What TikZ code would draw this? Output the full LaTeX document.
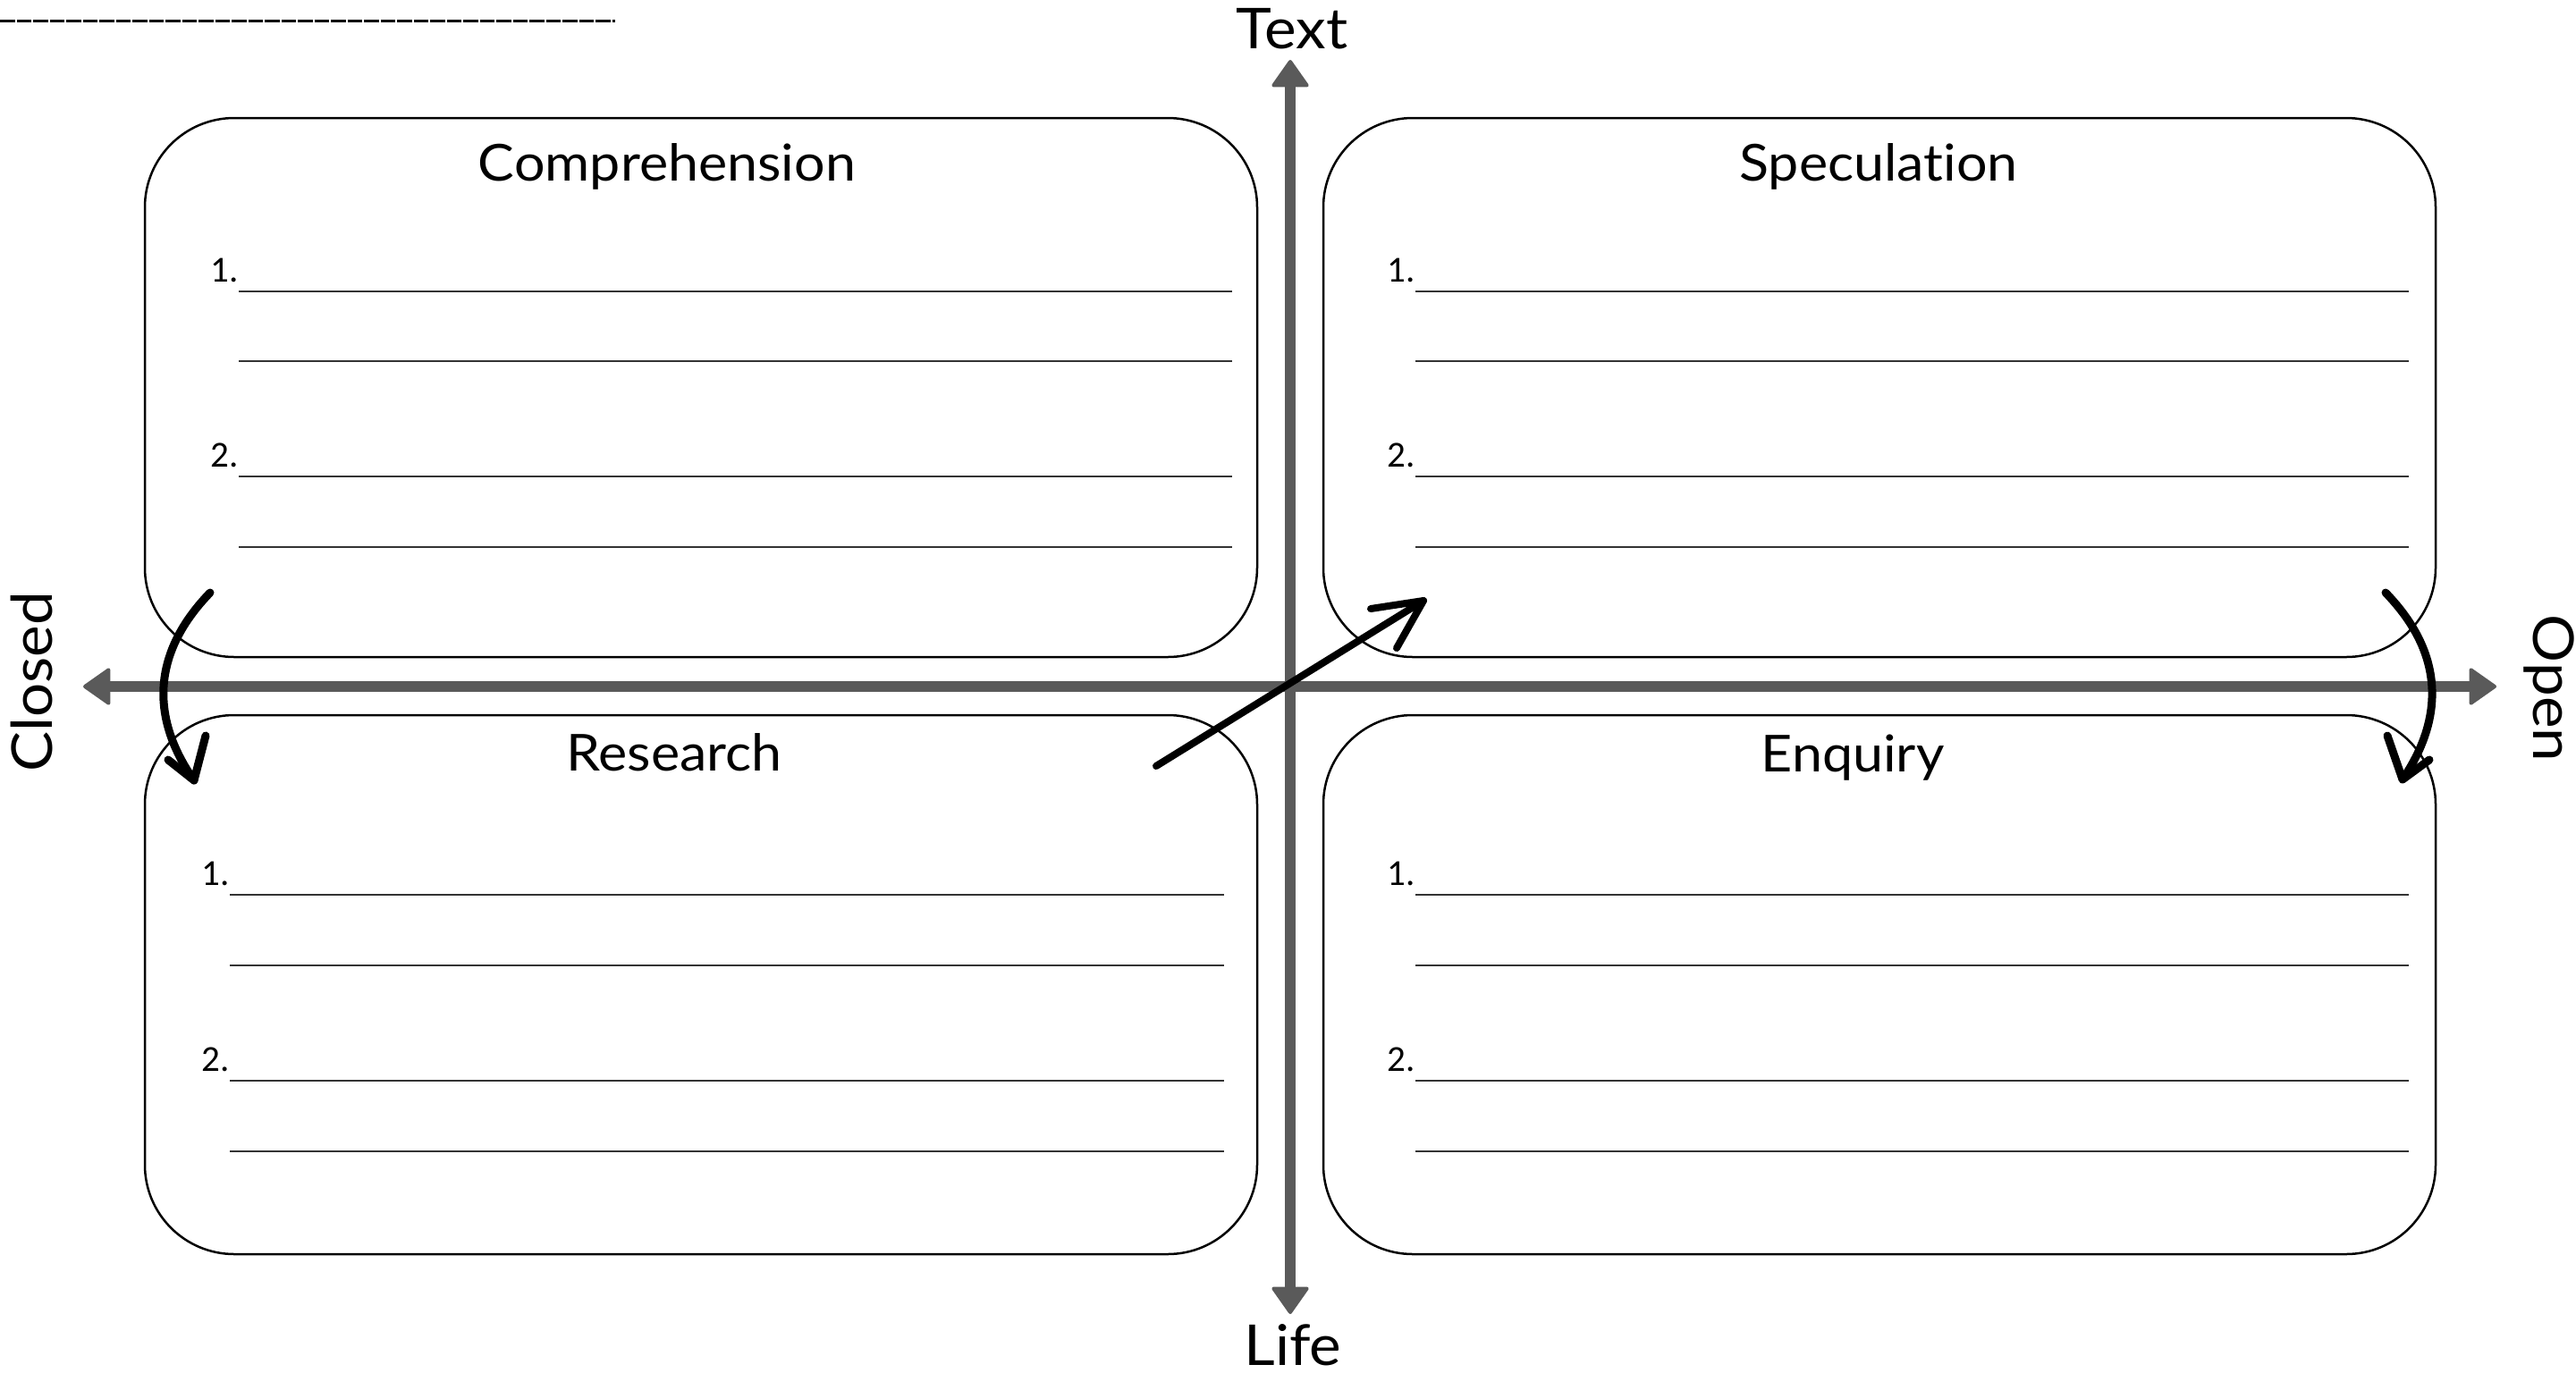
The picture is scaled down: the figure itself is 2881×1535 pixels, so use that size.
\documentclass[tikz,border=0pt]{standalone}
\usepackage{fontspec}
\setmainfont{Lato}[FakeStretch=1.07,Ligatures=NoCommon]
\newfontfamily\numfont{Carlito}
\usetikzlibrary{arrows.meta}
\definecolor{axisgray}{HTML}{5A5A5A}
\definecolor{rulegray}{HTML}{333333}
\begin{document}
\begin{tikzpicture}[x=1pt,y=-1pt,
  quadbox/.style={draw=black, line width=2.5pt, rounded corners=100pt,
    minimum width=1244pt, minimum height=603pt, inner sep=0pt},
  titletext/.style={font=\fontsize{57}{68}\selectfont, anchor=base, inner sep=0pt},
  axislabel/.style={font=\fontsize{63}{75}\selectfont, anchor=base, inner sep=0pt},
  numlabel/.style={font=\numfont\fontsize{41}{49}\selectfont, anchor=base east, inner sep=0pt},
  ruleline/.style={draw=rulegray, line width=2pt},
  axisline/.style={draw=axisgray, fill=axisgray, line width=12pt,
    {Triangle[width=44pt,length=32pt,round,line width=4pt]}-{Triangle[width=44pt,length=32pt,round,line width=4pt]}},
  brush/.style={draw=black, line width=9pt, line cap=round, line join=round}
]
\useasboundingbox (0,0) rectangle (2881,1535);
\fill[white] (0,0) rectangle (2881,1535);

% top-left underscore line
\coordinate (ul0) at (0,23);
\coordinate (ul1) at (688,23);
\draw[black, line width=3pt, dash pattern=on 16.5pt off 2pt] (ul0) -- (ul1);

% boxes
\node[quadbox] (tl) at (784,433.5) {};
\node[quadbox] (tr) at (2102,433.5) {};
\node[quadbox] (bl) at (784,1101.5) {};
\node[quadbox] (br) at (2102,1101.5) {};

% axes
\coordinate (west) at (93,768);
\coordinate (east) at (2792,768);
\coordinate (north) at (1443,67);
\coordinate (south) at (1443,1470);
\draw[axisline] (west) -- (east);
\draw[axisline] (south) -- (north);

% axis labels
\node[axislabel] (ltext) at (1445,54) {Text};
\node[axislabel] (llife) at (1446,1527) {Life};
\node[axislabel, rotate=-90] (lopen) at (2833,770) {Open};
\node[axislabel, rotate=90] (lclosed) at (58,763) {Closed};

% titles
\node[titletext] (ttl) at (746,202) {Comprehension};
\node[titletext] (ttr) at (2101,202) {Speculation};
\node[titletext] (tbl) at (754,862) {Research};
\node[titletext] (tbr) at (2072,863) {Enquiry};

% rule lines and numbers
\foreach \xa/\xb/\ya/\yb/\yc/\yd in {267/1378/326/404/533/612, 1583/2694/326/404/533/612, 257/1369/1001/1080/1209/1288, 1583/2694/1001/1080/1209/1288}{
  \draw[ruleline] (\xa,\ya) -- (\xb,\ya);
  \draw[ruleline] (\xa,\yb) -- (\xb,\yb);
  \draw[ruleline] (\xa,\yc) -- (\xb,\yc);
  \draw[ruleline] (\xa,\yd) -- (\xb,\yd);
  \node[numlabel] at (\xa,\ya-11) {1.};
  \node[numlabel] at (\xa,\yc-11) {2.};
}

% curved arrows
\coordinate (la0) at (235,663);
\coordinate (la1) at (217,873);
\draw[brush] (la0) .. controls (172,728) and (166,800) .. (la1);
\draw[brush] (188,850) -- (la1) -- (230,823);

\coordinate (ra0) at (2668,663);
\coordinate (ra1) at (2687,872);
\draw[brush] (ra0) .. controls (2730,727) and (2737,798) .. (ra1);
\draw[brush] (2670,823) -- (ra1) -- (2717,850);

% diagonal arrow
\coordinate (ds) at (1293,857);
\coordinate (de) at (1592,672);
\draw[brush, line width=8pt] (ds) -- (de);
\draw[brush, line width=8pt] (1533,681) -- (de) -- (1562,725);
\end{tikzpicture}
\end{document}
